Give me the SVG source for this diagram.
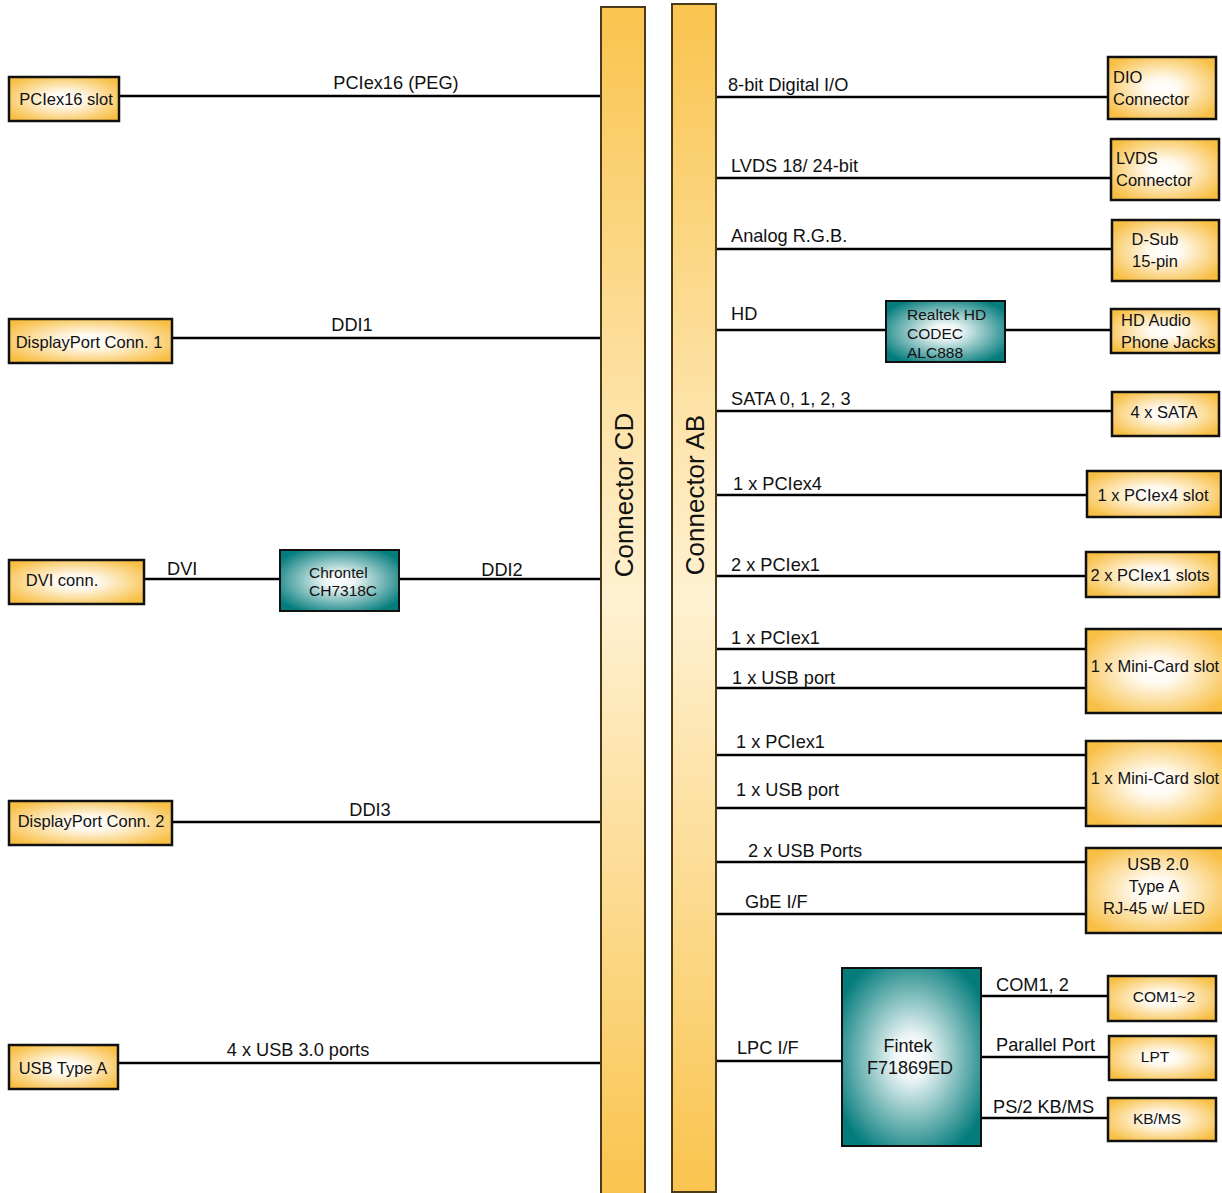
<svg xmlns="http://www.w3.org/2000/svg" width="1222" height="1193" viewBox="0 0 1222 1193">
<defs>
  <radialGradient id="amber" cx="50%" cy="50%" r="60%">
    <stop offset="0" stop-color="#ffffff"/>
    <stop offset="0.25" stop-color="#fffaf0"/>
    <stop offset="1" stop-color="#f8bf45"/>
  </radialGradient>
  <radialGradient id="teal" cx="50%" cy="50%" r="60%">
    <stop offset="0" stop-color="#ffffff"/>
    <stop offset="0.2" stop-color="#eef6f6"/>
    <stop offset="1" stop-color="#047c7c"/>
  </radialGradient>
  <linearGradient id="bar" x1="0" y1="0" x2="0" y2="1">
    <stop offset="0" stop-color="#f9c44e"/>
    <stop offset="0.5" stop-color="#fff1d2"/>
    <stop offset="1" stop-color="#f9c44e"/>
  </linearGradient>
</defs>
<style>
  .box{fill:url(#amber);stroke:#111;stroke-width:2.5}
  .chip{fill:url(#teal);stroke:#111;stroke-width:2}
  .bar{fill:url(#bar);stroke:#4a3a18;stroke-width:2}
  .wire{stroke:#000;stroke-width:2.5;fill:none}
  text{font-family:"Liberation Sans",Arial,sans-serif;fill:#111}
  .bt{font-size:16.5px}
  .ct{font-size:15.5px}
  .lb{font-size:18.2px}
  .mid{text-anchor:middle}
  .big{font-size:26px}
</style>

<g id="connectors">
  <line class="wire" x1="119" y1="96" x2="601" y2="96"/>
  <line class="wire" x1="172" y1="338" x2="601" y2="338"/>
  <line class="wire" x1="144" y1="579" x2="280" y2="579"/>
  <line class="wire" x1="399" y1="579" x2="601" y2="579"/>
  <line class="wire" x1="172" y1="822" x2="601" y2="822"/>
  <line class="wire" x1="118" y1="1063" x2="601" y2="1063"/>

  <line class="wire" x1="716" y1="97" x2="1108" y2="97"/>
  <line class="wire" x1="716" y1="178" x2="1111" y2="178"/>
  <line class="wire" x1="716" y1="249" x2="1112" y2="249"/>
  <line class="wire" x1="716" y1="330" x2="886" y2="330"/>
  <line class="wire" x1="1005" y1="330" x2="1111" y2="330"/>
  <line class="wire" x1="716" y1="411" x2="1112" y2="411"/>
  <line class="wire" x1="716" y1="495" x2="1087" y2="495"/>
  <line class="wire" x1="716" y1="576" x2="1086" y2="576"/>
  <line class="wire" x1="716" y1="649" x2="1086" y2="649"/>
  <line class="wire" x1="716" y1="688" x2="1086" y2="688"/>
  <line class="wire" x1="716" y1="755" x2="1086" y2="755"/>
  <line class="wire" x1="716" y1="808" x2="1086" y2="808"/>
  <line class="wire" x1="716" y1="862" x2="1086" y2="862"/>
  <line class="wire" x1="716" y1="914" x2="1086" y2="914"/>
  <line class="wire" x1="716" y1="1061" x2="842" y2="1061"/>
  <line class="wire" x1="981" y1="996" x2="1108" y2="996"/>
  <line class="wire" x1="981" y1="1057" x2="1109" y2="1057"/>
  <line class="wire" x1="981" y1="1118" x2="1108" y2="1118"/>

  <text class="lb mid" x="396" y="89">PCIex16 (PEG)</text>
  <text class="lb mid" x="352" y="331">DDI1</text>
  <text class="lb" x="167" y="575">DVI</text>
  <text class="lb mid" x="502" y="576">DDI2</text>
  <text class="lb mid" x="370" y="816">DDI3</text>
  <text class="lb mid" x="298" y="1056">4 x USB 3.0 ports</text>

  <text class="lb" x="728" y="91">8-bit Digital I/O</text>
  <text class="lb" x="731" y="172">LVDS 18/ 24-bit</text>
  <text class="lb" x="731" y="242">Analog R.G.B.</text>
  <text class="lb" x="731" y="320">HD</text>
  <text class="lb" x="731" y="405">SATA 0, 1, 2, 3</text>
  <text class="lb" x="733" y="490">1 x PCIex4</text>
  <text class="lb" x="731" y="571">2 x PCIex1</text>
  <text class="lb" x="731" y="644">1 x PCIex1</text>
  <text class="lb" x="732" y="684">1 x USB port</text>
  <text class="lb" x="736" y="748">1 x PCIex1</text>
  <text class="lb" x="736" y="796">1 x USB port</text>
  <text class="lb" x="748" y="857">2 x USB Ports</text>
  <text class="lb" x="745" y="908">GbE I/F</text>
  <text class="lb" x="737" y="1054">LPC I/F</text>
  <text class="lb" x="996" y="991">COM1, 2</text>
  <text class="lb" x="996" y="1051">Parallel Port</text>
  <text class="lb" x="993" y="1113">PS/2 KB/MS</text>
</g>

<g id="connector-cd">
  <path class="bar" d="M601,1195 V7 H645 V1195"/>
  <text class="big mid" transform="translate(633,495) rotate(-90)">Connector CD</text>
</g>
<g id="connector-ab">
  <rect class="bar" x="672" y="4" width="44" height="1188"/>
  <text class="big mid" transform="translate(704,495) rotate(-90)">Connector AB</text>
</g>

<g id="pciex16-slot">
  <rect class="box" x="9" y="77" width="110" height="44"/>
  <text class="bt mid" x="66" y="105">PCIex16 slot</text>
</g>
<g id="dp-conn-1">
  <rect class="box" x="9" y="319" width="163" height="44"/>
  <text class="bt mid" x="89" y="348">DisplayPort Conn. 1</text>
</g>
<g id="dvi-conn">
  <rect class="box" x="9" y="560" width="135" height="44"/>
  <text class="bt mid" x="62" y="586">DVI conn.</text>
</g>
<g id="chrontel">
  <rect class="chip" x="280" y="550" width="119" height="61"/>
  <text class="ct" x="309" y="578">Chrontel</text>
  <text class="ct" x="309" y="596">CH7318C</text>
</g>
<g id="dp-conn-2">
  <rect class="box" x="9" y="801" width="163" height="44"/>
  <text class="bt mid" x="91" y="827">DisplayPort Conn. 2</text>
</g>
<g id="usb-type-a">
  <rect class="box" x="9" y="1045" width="109" height="44"/>
  <text class="bt mid" x="63" y="1074">USB Type A</text>
</g>

<g id="dio-connector">
  <rect class="box" x="1108" y="57" width="108" height="62"/>
  <text class="bt" x="1113" y="83">DIO</text>
  <text class="bt" x="1113" y="105">Connector</text>
</g>
<g id="lvds-connector">
  <rect class="box" x="1111" y="139" width="108" height="61"/>
  <text class="bt" x="1116" y="164">LVDS</text>
  <text class="bt" x="1116" y="186">Connector</text>
</g>
<g id="dsub">
  <rect class="box" x="1112" y="220" width="107" height="61"/>
  <text class="bt mid" x="1155" y="245">D-Sub</text>
  <text class="bt mid" x="1155" y="267">15-pin</text>
</g>
<g id="realtek">
  <rect class="chip" x="886" y="301" width="119" height="61"/>
  <text class="ct" x="907" y="320">Realtek HD</text>
  <text class="ct" x="907" y="339">CODEC</text>
  <text class="ct" x="907" y="358">ALC888</text>
</g>
<g id="hd-audio">
  <rect class="box" x="1111" y="309" width="108" height="44"/>
  <text class="bt" x="1121" y="326">HD Audio</text>
  <text class="bt" x="1121" y="348">Phone Jacks</text>
</g>
<g id="sata">
  <rect class="box" x="1112" y="392" width="107" height="44"/>
  <text class="bt mid" x="1164" y="418">4 x SATA</text>
</g>
<g id="pciex4-slot">
  <rect class="box" x="1087" y="471" width="134" height="46"/>
  <text class="bt mid" x="1153" y="501">1 x PCIex4 slot</text>
</g>
<g id="pciex1-slots">
  <rect class="box" x="1086" y="552" width="133" height="45"/>
  <text class="bt mid" x="1150" y="581">2 x PCIex1 slots</text>
</g>
<g id="minicard-1">
  <rect class="box" x="1086" y="629" width="140" height="84"/>
  <text class="bt mid" x="1155" y="672">1 x Mini-Card slot</text>
</g>
<g id="minicard-2">
  <rect class="box" x="1086" y="741" width="140" height="85"/>
  <text class="bt mid" x="1155" y="784">1 x Mini-Card slot</text>
</g>
<g id="usb-rj45">
  <rect class="box" x="1086" y="848" width="140" height="85"/>
  <text class="bt mid" x="1158" y="870">USB 2.0</text>
  <text class="bt mid" x="1154" y="892">Type A</text>
  <text class="bt mid" x="1154" y="914">RJ-45 w/ LED</text>
</g>
<g id="fintek">
  <rect class="chip" x="842" y="968" width="139" height="178"/>
  <text class="mid" style="font-size:18px" x="908" y="1052">Fintek</text>
  <text class="mid" style="font-size:18px" x="910" y="1074">F71869ED</text>
</g>
<g id="com">
  <rect class="box" x="1108" y="976" width="108" height="45"/>
  <text class="ct mid" x="1164" y="1002">COM1~2</text>
</g>
<g id="lpt">
  <rect class="box" x="1109" y="1036" width="107" height="44"/>
  <text class="ct mid" x="1155" y="1062">LPT</text>
</g>
<g id="kbms">
  <rect class="box" x="1108" y="1098" width="108" height="43"/>
  <text class="ct mid" x="1157" y="1124">KB/MS</text>
</g>
</svg>
